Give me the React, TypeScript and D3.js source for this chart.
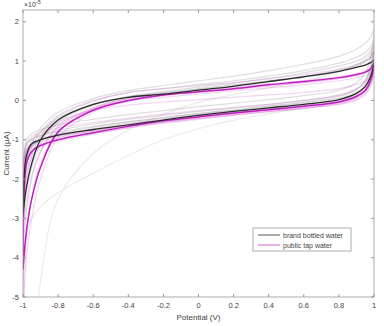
import React, { useEffect, useRef } from "react";
import * as d3 from "d3";

// shared potential grid (V)
const potentials = [-1, -0.98, -0.95, -0.9, -0.8, -0.6, -0.4, -0.2, 0, 0.2, 0.4, 0.6, 0.8, 0.9, 0.95, 0.98, 1];

// mean curves (x1e-5), forward scan and reverse scan
const bottledFwd = [-2.9, -2.2, -1.6, -1.0, -0.5, -0.1, 0.08, 0.16, 0.26, 0.36, 0.48, 0.6, 0.74, 0.84, 0.9, 0.96, 1.02];
const bottledRev = [-2.9, -1.4, -1.1, -1.0, -0.88, -0.74, -0.62, -0.5, -0.38, -0.28, -0.19, -0.1, 0.02, 0.18, 0.35, 0.6, 1.02];
const tapFwd = [-4.3, -3.3, -2.5, -1.7, -0.8, -0.25, 0.0, 0.14, 0.22, 0.3, 0.4, 0.48, 0.58, 0.66, 0.72, 0.8, 0.95];
const tapRev = [-4.3, -1.6, -1.3, -1.15, -1.0, -0.82, -0.66, -0.52, -0.42, -0.32, -0.24, -0.15, -0.04, 0.1, 0.25, 0.5, 0.95];

// individual measurements (faint)
const bottledRuns = [
  { fwd: [-2.0, -1.5, -1.1, -0.7, -0.3, 0.05, 0.25, 0.38, 0.5, 0.62, 0.76, 0.92, 1.12, 1.3, 1.45, 1.6, 1.8],
    rev: [-2.0, -1.0, -0.85, -0.75, -0.62, -0.48, -0.36, -0.26, -0.16, -0.07, 0.02, 0.12, 0.26, 0.45, 0.7, 1.1, 1.8] },
  { fwd: [-3.2, -2.3, -1.7, -1.1, -0.55, -0.12, 0.1, 0.22, 0.34, 0.44, 0.56, 0.7, 0.88, 1.0, 1.12, 1.25, 1.4],
    rev: [-3.2, -1.5, -1.15, -1.0, -0.85, -0.68, -0.55, -0.44, -0.33, -0.24, -0.14, -0.04, 0.1, 0.28, 0.5, 0.85, 1.4] },
  { fwd: [-12, -9, -7, -4.6, -2.5, -1.35, -0.75, -0.35, -0.05, 0.15, 0.32, 0.5, 0.72, 0.9, 1.05, 1.2, 1.45],
    rev: [-12, -3.6, -3.0, -2.7, -2.35, -1.85, -1.4, -1.0, -0.72, -0.5, -0.34, -0.2, -0.05, 0.15, 0.4, 0.8, 1.45] },
  { fwd: [-2.6, -1.9, -1.4, -0.9, -0.42, -0.02, 0.2, 0.3, 0.4, 0.5, 0.62, 0.76, 0.95, 1.1, 1.22, 1.35, 1.55],
    rev: [-2.6, -1.2, -0.98, -0.88, -0.76, -0.6, -0.48, -0.38, -0.28, -0.19, -0.1, 0.0, 0.14, 0.3, 0.5, 0.85, 1.55] },
  { fwd: [-1.6, -1.3, -1.05, -0.8, -0.45, -0.1, 0.1, 0.2, 0.3, 0.4, 0.5, 0.62, 0.78, 0.9, 1.0, 1.1, 1.25],
    rev: [-1.6, -1.1, -0.98, -0.9, -0.8, -0.66, -0.54, -0.44, -0.34, -0.25, -0.16, -0.06, 0.06, 0.2, 0.38, 0.65, 1.25] },
  { fwd: [-3.8, -2.8, -2.0, -1.3, -0.65, -0.18, 0.05, 0.17, 0.28, 0.38, 0.49, 0.6, 0.76, 0.88, 0.98, 1.08, 1.2],
    rev: [-3.8, -1.7, -1.3, -1.12, -0.95, -0.78, -0.65, -0.54, -0.43, -0.33, -0.24, -0.14, -0.02, 0.12, 0.3, 0.6, 1.2] },
];

const tapRuns = [
  { fwd: [-5.5, -4.0, -3.0, -2.0, -0.95, -0.3, -0.02, 0.12, 0.2, 0.28, 0.36, 0.45, 0.56, 0.65, 0.72, 0.8, 0.92],
    rev: [-5.5, -1.8, -1.4, -1.2, -1.05, -0.86, -0.7, -0.56, -0.46, -0.36, -0.27, -0.18, -0.07, 0.06, 0.22, 0.45, 0.92] },
  { fwd: [-3.5, -2.6, -1.9, -1.3, -0.7, -0.2, 0.05, 0.18, 0.26, 0.34, 0.42, 0.5, 0.6, 0.68, 0.75, 0.82, 0.95],
    rev: [-3.5, -1.4, -1.15, -1.05, -0.92, -0.76, -0.62, -0.5, -0.4, -0.31, -0.23, -0.14, -0.03, 0.1, 0.25, 0.5, 0.95] },
  { fwd: [-2.8, -2.0, -1.5, -1.0, -0.55, -0.25, -0.12, -0.04, 0.02, 0.08, 0.14, 0.2, 0.3, 0.4, 0.48, 0.56, 0.7],
    rev: [-2.8, -1.3, -1.1, -1.0, -0.9, -0.78, -0.66, -0.56, -0.46, -0.37, -0.28, -0.2, -0.1, 0.0, 0.14, 0.35, 0.7] },
  { fwd: [-2.2, -1.6, -1.2, -0.8, -0.38, 0.0, 0.2, 0.3, 0.38, 0.46, 0.55, 0.66, 0.8, 0.92, 1.02, 1.12, 1.3],
    rev: [-2.2, -1.1, -0.92, -0.82, -0.7, -0.56, -0.45, -0.35, -0.26, -0.18, -0.1, 0.0, 0.12, 0.28, 0.46, 0.75, 1.3] },
  { fwd: [-4.6, -3.4, -2.5, -1.6, -0.8, -0.22, 0.02, 0.14, 0.22, 0.3, 0.38, 0.46, 0.56, 0.64, 0.7, 0.76, 0.85],
    rev: [-4.6, -1.6, -1.3, -1.15, -1.0, -0.84, -0.7, -0.58, -0.48, -0.38, -0.29, -0.2, -0.09, 0.04, 0.18, 0.4, 0.85] },
  { fwd: [-1.9, -1.5, -1.2, -0.95, -0.6, -0.22, -0.02, 0.08, 0.16, 0.24, 0.32, 0.4, 0.5, 0.58, 0.64, 0.7, 0.8],
    rev: [-1.9, -1.25, -1.1, -1.0, -0.88, -0.72, -0.58, -0.47, -0.37, -0.28, -0.2, -0.11, 0.0, 0.12, 0.25, 0.45, 0.8] },
];

const xTicks = [-1, -0.8, -0.6, -0.4, -0.2, 0, 0.2, 0.4, 0.6, 0.8, 1];
const yTicks = [-5, -4, -3, -2, -1, 0, 1, 2];
const legendLabels = ["brand bottled water", "public tap water"];

const W = 384, H = 326;
const FONT = "'Liberation Sans', Arial, sans-serif";

export default function App() {
  const ref = useRef<SVGSVGElement>(null);

  useEffect(() => {
    const svg = d3.select(ref.current);
    svg.selectAll("*").remove();

    const left = 23, right = 374, top = 10, bottom = 297;
    const x = d3.scaleLinear().domain([-1, 1]).range([left, right]);
    const y = d3.scaleLinear().domain([-5, 2.3]).range([bottom, top]);

    svg.append("defs").append("clipPath").attr("id", "plotclip")
      .append("rect").attr("x", left).attr("y", top).attr("width", right - left).attr("height", bottom - top);

    const loop = (fwd: number[], rev: number[]) => {
      const pts: [number, number][] = potentials.map((p, i) => [p, fwd[i]]);
      for (let i = potentials.length - 2; i >= 0; i--) pts.push([potentials[i], rev[i]]);
      return pts;
    };
    const line = d3.line<[number, number]>()
      .x(d => x(d[0]))
      .y(d => y(d[1]))
      .curve(d3.curveCatmullRom.alpha(0.5));

    const plot = svg.append("g").attr("clip-path", "url(#plotclip)");

    bottledRuns.forEach((r, i) => {
      plot.append("path").attr("d", line(loop(r.fwd, r.rev)))
        .attr("fill", "none").attr("stroke", "#7a7a7a")
        .attr("stroke-opacity", i === 2 ? 0.15 : 0.25).attr("stroke-width", 1.2);
    });
    tapRuns.forEach(r => {
      plot.append("path").attr("d", line(loop(r.fwd, r.rev)))
        .attr("fill", "none").attr("stroke", "#d040d0").attr("stroke-opacity", 0.22).attr("stroke-width", 1.2);
    });

    plot.append("path").attr("d", line(loop(tapFwd, tapRev)))
      .attr("fill", "none").attr("stroke", "#c21cc2").attr("stroke-width", 1.5);
    plot.append("path").attr("d", line(loop(bottledFwd, bottledRev)))
      .attr("fill", "none").attr("stroke", "#2a2a2a").attr("stroke-width", 1.3);

    // box + ticks
    const axisCol = "#9a9a9a";
    svg.append("rect").attr("x", left).attr("y", top).attr("width", right - left).attr("height", bottom - top)
      .attr("fill", "none").attr("stroke", axisCol).attr("stroke-width", 0.8);

    const tl = 3;
    xTicks.forEach(t => {
      svg.append("line").attr("x1", x(t)).attr("x2", x(t)).attr("y1", bottom).attr("y2", bottom - tl).attr("stroke", axisCol);
      svg.append("line").attr("x1", x(t)).attr("x2", x(t)).attr("y1", top).attr("y2", top + tl).attr("stroke", axisCol);
      svg.append("text").attr("x", x(t)).attr("y", bottom + 11).attr("text-anchor", "middle")
        .attr("font-family", FONT).attr("font-size", 7.5).attr("fill", "#444").text(String(t));
    });
    yTicks.forEach(t => {
      svg.append("line").attr("x1", left).attr("x2", left + tl).attr("y1", y(t)).attr("y2", y(t)).attr("stroke", axisCol);
      svg.append("line").attr("x1", right).attr("x2", right - tl).attr("y1", y(t)).attr("y2", y(t)).attr("stroke", axisCol);
      svg.append("text").attr("x", left - 4).attr("y", y(t) + 2.7).attr("text-anchor", "end")
        .attr("font-family", FONT).attr("font-size", 7.5).attr("fill", "#444").text(String(t));
    });

    // exponent
    const ex = svg.append("text").attr("x", 24).attr("y", 7).attr("font-family", FONT).attr("font-size", 7).attr("fill", "#444");
    ex.append("tspan").text("×10");
    ex.append("tspan").attr("dy", -3).attr("font-size", 5.5).text("-5");

    // axis labels
    svg.append("text").attr("x", (left + right) / 2).attr("y", 320).attr("text-anchor", "middle")
      .attr("font-family", FONT).attr("font-size", 8).attr("fill", "#444").text("Potential (V)");
    svg.append("text").attr("transform", `translate(9,${(top + bottom) / 2}) rotate(-90)`).attr("text-anchor", "middle")
      .attr("font-family", FONT).attr("font-size", 8).attr("fill", "#444").text("Current (μA)");

    // legend
    const lg = svg.append("g").attr("transform", "translate(253,228)");
    lg.append("rect").attr("width", 98).attr("height", 23).attr("fill", "#fff").attr("stroke", "#999").attr("stroke-width", 0.8);
    const lcols = ["#555", "#e060e0"];
    legendLabels.forEach((lab, i) => {
      const yy = 7 + i * 10;
      lg.append("line").attr("x1", 5).attr("x2", 27).attr("y1", yy).attr("y2", yy).attr("stroke", lcols[i]).attr("stroke-width", 1);
      lg.append("text").attr("x", 30).attr("y", yy + 2.5).attr("font-family", FONT).attr("font-size", 7)
        .attr("fill", "#444").text(lab);
    });
  }, []);

  return (
    <svg ref={ref} width={W} height={H} style={{ position: "absolute", left: 0, top: 0, background: "#fff" }} />
  );
}
